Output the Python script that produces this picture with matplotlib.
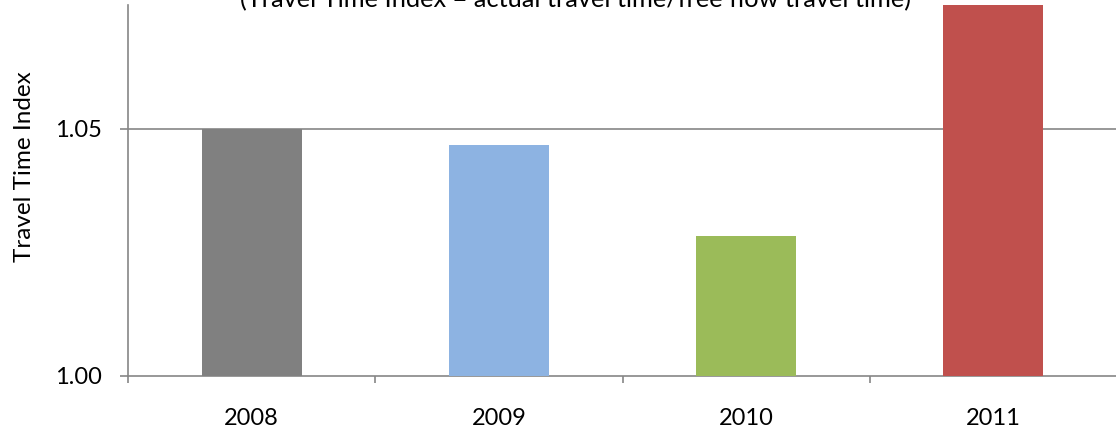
import matplotlib.pyplot as plt
import numpy as np

# --- Data ---
years = ["2008", "2009", "2010", "2011"]
tti = [1.050, 1.0466, 1.0283, 1.075]
bar_colors = ["#808080", "#8DB3E2", "#9BBB59", "#C0504D"]
ytick_vals = [1.00, 1.05]

plt.rcParams["font.family"] = ["Lato", "DejaVu Sans"]

W, H = 1116, 428
fig = plt.figure(figsize=(W / 100, H / 100), dpi=100)
ax = fig.add_axes([128 / W, 1 - 376 / H, (1117 - 128) / W, (376 - 5) / H])

x = np.arange(len(years))
ax.bar(x, tti, width=0.405, color=bar_colors, zorder=3)

ax.set_xlim(-0.5, len(years) - 0.5)
ax.set_ylim(1.00, 1.075)

# gridline at 1.05
ax.axhline(1.05, color="#868686", lw=1.2, zorder=1)

ax.set_yticks(ytick_vals)
ax.set_yticklabels([f"{v:.2f}" for v in ytick_vals], fontsize=17)
ax.set_xticks(x)
ax.set_xticklabels(years, fontsize=17)
ax.set_xticks(np.arange(-0.5, len(years)), minor=True)

ax.tick_params(axis="x", which="major", length=0, pad=23)
ax.tick_params(axis="x", which="minor", length=5, width=1.2, color="#868686")
ax.tick_params(axis="y", length=6, width=1.2, color="#868686", pad=13)

for s in ["top", "right"]:
    ax.spines[s].set_visible(False)
for s in ["left", "bottom"]:
    ax.spines[s].set_color("#868686")
    ax.spines[s].set_linewidth(1.2)

fig.text(25 / W, 1 - 167 / H, "Travel Time Index", rotation=90,
         ha="center", va="center", fontsize=17.5)
fig.text(575 / W, 1 - 7 / H,
         "(Travel Time Index = actual travel time/free flow travel time)",
         ha="center", va="baseline", fontsize=18.3)

fig.savefig("out.png", dpi=100)
